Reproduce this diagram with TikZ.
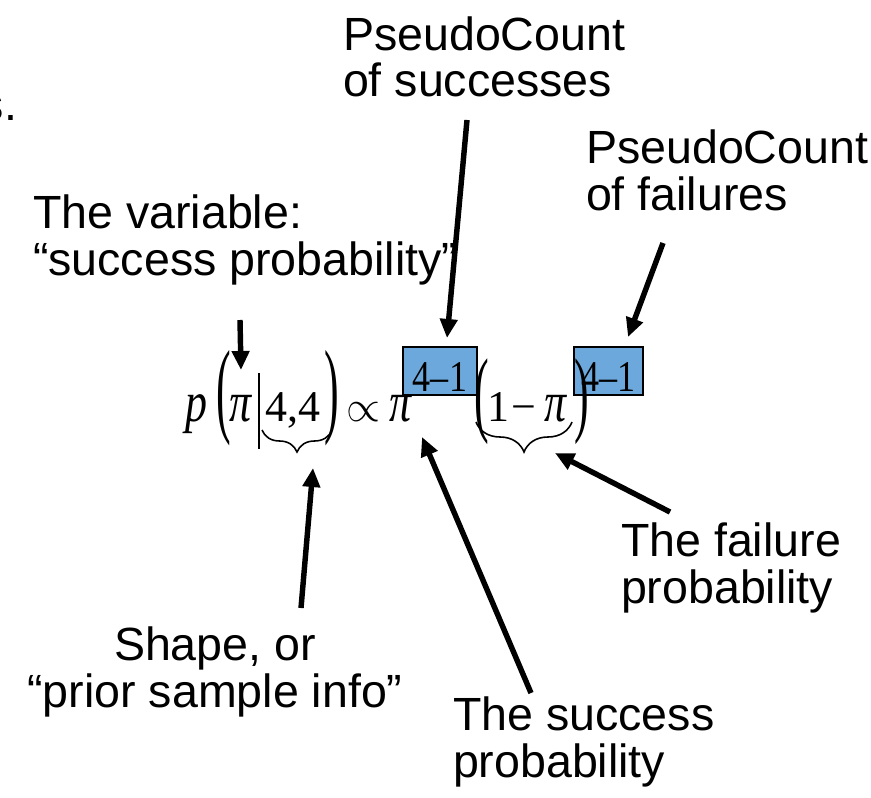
\documentclass[tikz,border=0pt]{standalone}
\usepackage{fontspec}
\usepackage{graphicx}
\setmainfont{Liberation Sans}
\newfontfamily\eqfont{Liberation Serif}
\usetikzlibrary{arrows.meta,decorations.pathreplacing}
\definecolor{expblue}{RGB}{108,168,220}
\newcommand{\tallparen}[2]{\scalebox{1}[#1]{#2}}
\newcommand{\tallvar}[1]{\scalebox{1}[1.3]{\itshape #1}}

\begin{document}
\begin{tikzpicture}[x=0.02cm, y=-0.02cm,
  every node/.style={inner sep=0pt, outer sep=0pt},
  lbl/.style={font=\fontsize{26.5}{26.2}\selectfont, align=left, anchor=base west},
  eq/.style={font=\eqfont\fontsize{25}{30}\selectfont, anchor=base},
  expbox/.style={eq, draw, line width=0.7pt, fill=expblue, text height=0.9cm, text depth=0.06cm, anchor=north west},
  arr/.style={line width=3.1pt, -{Triangle[length=0.38cm, width=0.34cm]}},
  ubrace/.style={decorate, decoration={brace, mirror, amplitude=#1}, line width=0.9pt}]
  \useasboundingbox (0,0) rectangle (871,797);

  % the formula
  \node[eq] (p) at (196,421) {\tallvar{p}};
  \node[eq] (lpa) at (224,423) {\tallparen{2.4}{(}};
  \node[eq] (pia) at (240,421) {\tallvar{π}};
  \draw[line width=0.8pt] (259,373) -- (259,449);
  \node[eq] (shape) at (293,421) {4,4};
  \node[eq] (rpa) at (332,423) {\tallparen{2.4}{)}};
  \node[eq] (prop) at (363,421) {$\propto$};
  \node[eq] (pib) at (400,421) {\tallvar{π}};
  \node[expbox, minimum width=1.48cm] (expa) at (403,347) {\scalebox{0.82}[1]{4–1}};
  \node[eq] (lpb) at (482,424) {\tallparen{2.16}{(}};
  \node[eq] (one) at (498,421) {1};
  \node[eq] (minus) at (524,421) {−};
  \node[eq] (pic) at (555,421) {\tallvar{π}};
  \node[expbox, minimum width=1.38cm] (expb) at (574,347) {\scalebox{0.82}[1]{4–1}};
  \node[eq] (rpb) at (582,424) {\tallparen{2.16}{)}};
  \draw[ubrace=0.44cm] (262,430) -- (332,430);
  \draw[ubrace=0.6cm] (476,422) -- (572,422);

  % labels (base = last line)
  \node[lbl] (cut) at (-19,121) {s.};
  \node[lbl] (succLbl) at (343,97) {PseudoCount\\of successes};
  \node[lbl] (failLbl) at (586,210) {PseudoCount\\of failures};
  \node[lbl] (varLbl) at (33,275) {The variable:\\“success probability”};
  \node[lbl] (fprobLbl) at (621,603) {The failure\\probability};
  \node[lbl, align=center, anchor=base] (shapeLbl) at (215,707) {Shape, or\\“prior sample info”};
  \node[lbl] (sprobLbl) at (453,777) {The success\\probability};

  % arrow ends
  \coordinate (succTail) at (467,120);
  \coordinate (succTip) at (447,338);
  \coordinate (failTail) at (663,243);
  \coordinate (failTip) at (628,337);
  \coordinate (varTail) at (240,320);
  \coordinate (varTip) at (241,370);
  \coordinate (shapeTail) at (301,608);
  \coordinate (shapeTip) at (313,468);
  \coordinate (sprobTail) at (531,693);
  \coordinate (sprobTip) at (422,437);
  \coordinate (fprobTail) at (670,512);
  \coordinate (fprobTip) at (555,453);

  \draw[arr] (succTail) -- (succTip);
  \draw[arr] (failTail) -- (failTip);
  \draw[arr] (varTail) -- (varTip);
  \draw[arr] (shapeTail) -- (shapeTip);
  \draw[arr] (sprobTail) -- (sprobTip);
  \draw[arr] (fprobTail) -- (fprobTip);
\end{tikzpicture}
\end{document}
